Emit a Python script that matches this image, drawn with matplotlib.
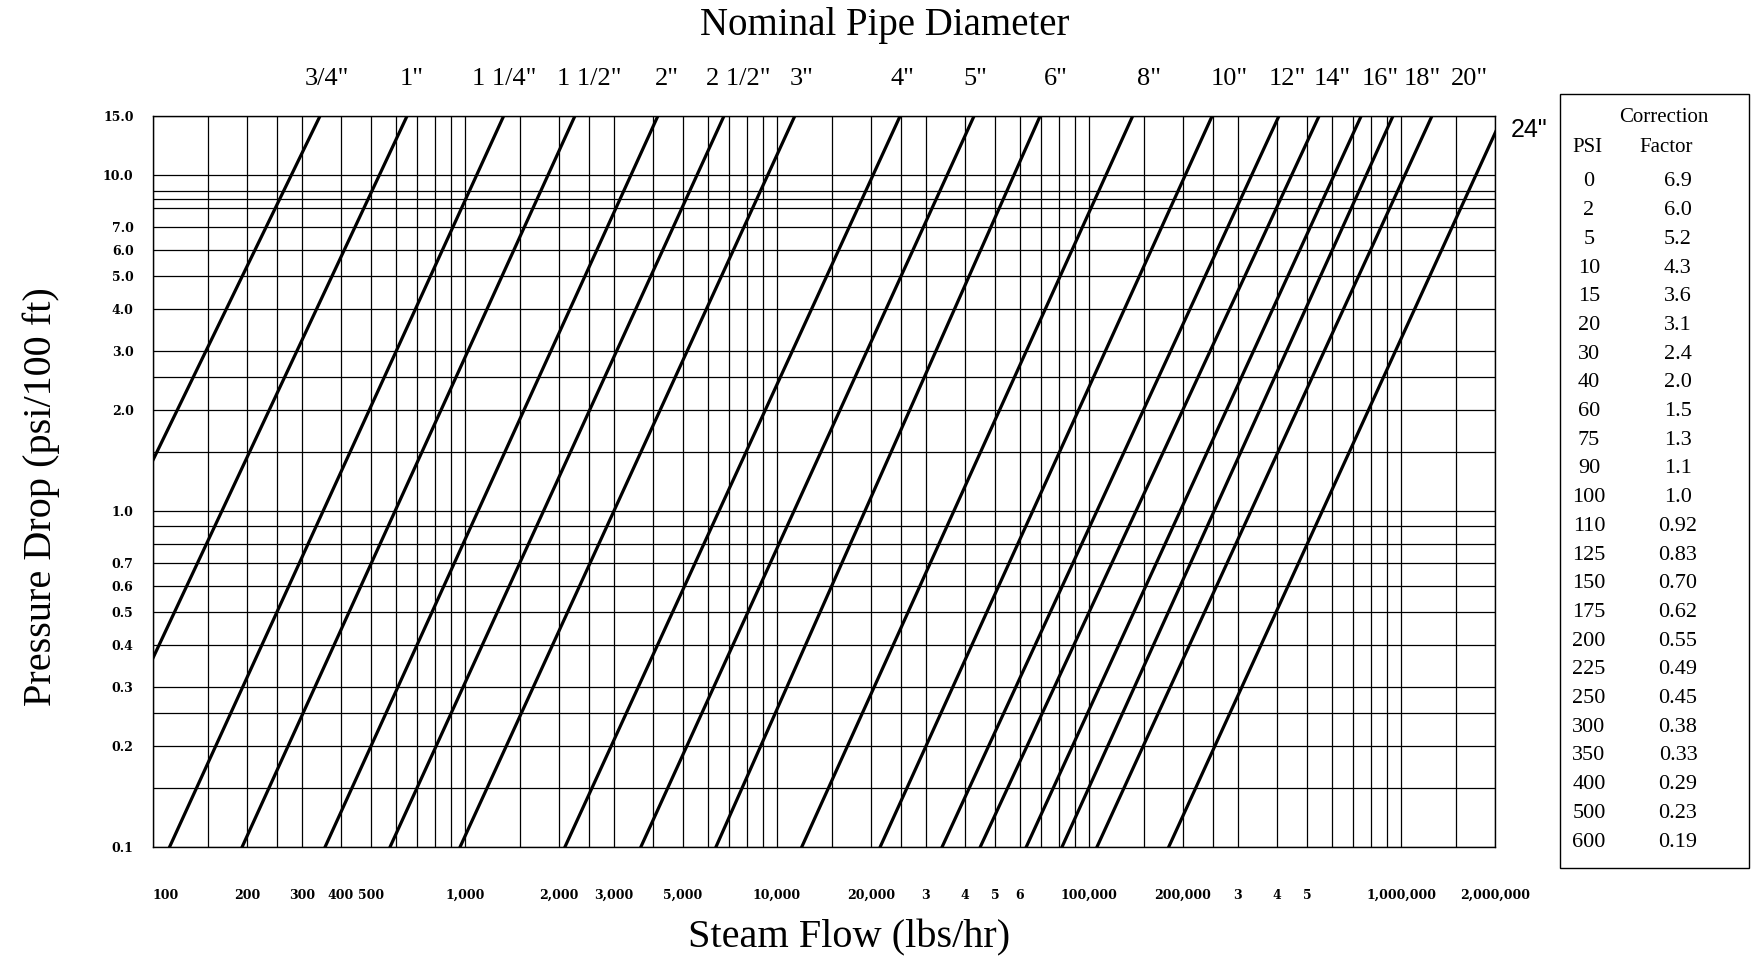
import matplotlib.pyplot as plt
from matplotlib.patches import Rectangle
from matplotlib.ticker import NullFormatter

# Nominal pipe sizes and the steam flow (lbs/hr) where each line
# crosses 0.1 and 15 psi/100 ft
pipe_sizes = ['3/4"', '1"', '1 1/4"', '1 1/2"', '2"', '2 1/2"', '3"', '4"', '5"', '6"',
              '8"', '10"', '12"', '14"', '16"', '18"', '20"', '24"']
flow_at_low = [25, 52, 113, 193, 356, 575, 964, 2090, 3660, 6370,
               12000, 21400, 33800, 44800, 62900, 81900, 106000, 180000]
flow_at_high = [343, 652, 1330, 2250, 4150, 6760, 11400, 24800, 42800, 69700,
                138000, 248000, 406000, 546000, 745000, 942000, 1256000, 2120000]
dp_low, dp_high = 0.1, 15.0

# Axis ticks and grid
x_tick_values = [100, 200, 300, 400, 500, 1000, 2000, 3000, 5000, 10000, 20000,
                 30000, 40000, 50000, 60000, 100000, 200000, 300000, 400000, 500000,
                 1000000, 2000000]
x_tick_labels = ['100', '200', '300', '400', '500', '1,000', '2,000', '3,000', '5,000',
                 '10,000', '20,000', '3', '4', '5', '6', '100,000', '200,000', '3', '4',
                 '5', '1,000,000', '2,000,000']
y_tick_values = [0.1, 0.2, 0.3, 0.4, 0.5, 0.6, 0.7, 1, 2, 3, 4, 5, 6, 7, 10, 15]
y_tick_labels = ['0.1', '0.2', '0.3', '0.4', '0.5', '0.6', '0.7', '1.0', '2.0', '3.0',
                 '4.0', '5.0', '6.0', '7.0', '10.0', '15.0']
mantissas = [1, 1.5, 2, 2.5, 3, 4, 5, 6, 7, 8, 9]
x_grid = [m * d for d in (100, 1000, 10000, 100000) for m in mantissas] + [1e6, 1.5e6, 2e6]
y_grid = [0.1, 0.15, 0.2, 0.25, 0.3, 0.4, 0.5, 0.6, 0.7, 0.8, 0.9, 1, 1.5, 2, 2.5,
          3, 4, 5, 6, 7, 8, 8.5, 9, 10, 15]

# Pressure correction table
psi = [0, 2, 5, 10, 15, 20, 30, 40, 60, 75, 90, 100, 110, 125, 150, 175, 200,
       225, 250, 300, 350, 400, 500, 600]
factor = [6.9, 6.0, 5.2, 4.3, 3.6, 3.1, 2.4, 2.0, 1.5, 1.3, 1.1, 1.0, 0.92, 0.83,
          0.70, 0.62, 0.55, 0.49, 0.45, 0.38, 0.33, 0.29, 0.23, 0.19]

SERIF = 'Liberation Serif'
W, H = 1752, 959
fig = plt.figure(figsize=(W / 100, H / 100), dpi=100)
ax = fig.add_axes([153 / W, 1 - 847 / H, (1495 - 153) / W, (847 - 116) / H])
ax.set_xscale('log')
ax.set_yscale('log')
ax.set_xlim(100, 2e6)
ax.set_ylim(0.1, 15)

for lo, hi in zip(flow_at_low, flow_at_high):
    ax.plot([lo, hi], [dp_low, dp_high], color='black', lw=2.3, zorder=3)

tick_font = dict(family='DejaVu Serif', fontweight='bold', fontsize=9)
ax.set_xticks(x_tick_values, x_tick_labels, **tick_font)
ax.set_yticks(y_tick_values, y_tick_labels, **tick_font)
ax.set_xticks(x_grid, minor=True)
ax.set_yticks(y_grid, minor=True)
ax.xaxis.set_minor_formatter(NullFormatter())
ax.yaxis.set_minor_formatter(NullFormatter())
ax.get_xticklabels()[0].set_ha('left')
ax.tick_params(which='both', length=0)
ax.tick_params(axis='x', pad=30)
ax.tick_params(axis='y', pad=14)
ax.grid(which='both', color='black', lw=0.9)
for sp in ax.spines.values():
    sp.set_linewidth(1.0)

# pipe size labels along the top
label_x = [0.1297, 0.193, 0.2615, 0.3249, 0.383, 0.4359, 0.4836, 0.5581, 0.6125,
           0.6729, 0.7422, 0.8018, 0.845, 0.8785, 0.9143, 0.9456, 0.9806]
for name, xf in zip(pipe_sizes[:-1], label_x):
    ax.text(xf, 1.051, name, transform=ax.transAxes, ha='center', va='center',
            fontsize=19, family=SERIF)
ax.text(1.012, (847 - 130) / 731, pipe_sizes[-1], transform=ax.transAxes,
        ha='left', va='center', fontsize=18, family='Liberation Sans')

fig.text(885 / W, 1 - 25 / H, 'Nominal Pipe Diameter', ha='center', va='center',
         fontsize=28, family=SERIF)
fig.text(849 / W, 1 - 938 / H, 'Steam Flow (lbs/hr)', ha='center', va='center',
         fontsize=29, family=SERIF)
fig.text(41 / W, 1 - 497 / H, 'Pressure Drop (psi/100 ft)', ha='center', va='center',
         rotation=90, fontsize=29, family=SERIF)

# correction factor table
fig.patches.append(Rectangle((1560 / W, 1 - 868 / H), (1749 - 1560) / W, (868 - 94) / H,
                             transform=fig.transFigure, fill=False, lw=1.0, ec='black'))
fig.text(1664 / W, 1 - 118 / H, 'Correction', ha='center', va='center', fontsize=15, family=SERIF)
fig.text(1666 / W, 1 - 147 / H, 'Factor', ha='center', va='center', fontsize=15, family=SERIF)
fig.text(1587 / W, 1 - 147 / H, 'PSI', ha='center', va='center', fontsize=15, family=SERIF)
for i, (p, f) in enumerate(zip(psi, factor)):
    y = 1 - (182 + i * 28.7) / H
    fig.text(1589 / W, y, str(p), ha='center', va='center', fontsize=16, family=SERIF)
    txt = f'{f:.1f}' if f >= 1 else f'{f:.2f}'
    fig.text(1678 / W, y, txt, ha='center', va='center', fontsize=16, family=SERIF)

fig.savefig('out.png', dpi=100)
